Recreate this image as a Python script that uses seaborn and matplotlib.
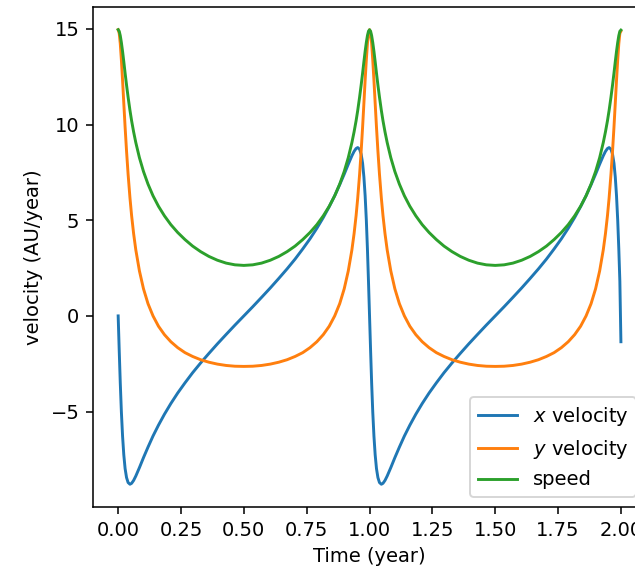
import numpy as np
import pandas as pd
import matplotlib
matplotlib.use("Agg")
import matplotlib.pyplot as plt
import seaborn as sns

# values (two orbits)
time = [0.0000, 0.0042, 0.0084, 0.0128, 0.0175, 0.0224, 0.0276, 0.0333, 0.0395, 0.0470,
        0.0535, 0.0615, 0.0702, 0.0846, 0.1007, 0.1187, 0.1386, 0.1604, 0.1841, 0.2096,
        0.2369, 0.2658, 0.2962, 0.3280, 0.3610, 0.3949, 0.4295, 0.4646, 0.5000,
        0.5354, 0.5705, 0.6051, 0.6390, 0.6720, 0.7038, 0.7342, 0.7631, 0.7904, 0.8159,
        0.8396, 0.8614, 0.8813, 0.8993, 0.9154, 0.9298, 0.9385, 0.9465, 0.9530, 0.9605,
        0.9667, 0.9724, 0.9776, 0.9825, 0.9872, 0.9916, 0.9958, 1.0000,
        1.0042, 1.0084, 1.0128, 1.0175, 1.0224, 1.0276, 1.0333, 1.0395, 1.0470,
        1.0535, 1.0615, 1.0702, 1.0846, 1.1007, 1.1187, 1.1386, 1.1604, 1.1841, 1.2096,
        1.2369, 1.2658, 1.2962, 1.3280, 1.3610, 1.3949, 1.4295, 1.4646, 1.5000,
        1.5354, 1.5705, 1.6051, 1.6390, 1.6720, 1.7038, 1.7342, 1.7631, 1.7904, 1.8159,
        1.8396, 1.8614, 1.8813, 1.8993, 1.9154, 1.9298, 1.9385, 1.9465, 1.9530, 1.9605,
        1.9667, 1.9724, 1.9776, 1.9825, 1.9872, 1.9916, 1.9958, 2.0000]

vx = [0.00, -1.81, -3.51, -5.02, -6.28, -7.26, -7.98, -8.45, -8.71, -8.80,
      -8.75, -8.60, -8.37, -7.93, -7.41, -6.86, -6.28, -5.71, -5.14, -4.58,
      -4.03, -3.50, -2.97, -2.46, -1.96, -1.46, -0.97, -0.48, 0.00,
      0.48, 0.97, 1.46, 1.96, 2.46, 2.97, 3.50, 4.03, 4.58, 5.14,
      5.71, 6.28, 6.86, 7.41, 7.93, 8.37, 8.60, 8.75, 8.80, 8.71,
      8.45, 7.98, 7.26, 6.28, 5.02, 3.51, 1.81, 0.00,
      -1.81, -3.51, -5.02, -6.28, -7.26, -7.98, -8.45, -8.71, -8.80,
      -8.75, -8.60, -8.37, -7.93, -7.41, -6.86, -6.28, -5.71, -5.14, -4.58,
      -4.03, -3.50, -2.97, -2.46, -1.96, -1.46, -0.97, -0.48, 0.00,
      0.48, 0.97, 1.46, 1.96, 2.46, 2.97, 3.50, 4.03, 4.58, 5.14,
      5.71, 6.28, 6.86, 7.41, 7.93, 8.37, 8.60, 8.75, 8.80, 8.71,
      8.45, 7.98, 7.26, 6.28, 5.02, 3.51, 1.81, -1.35]

vy = [14.96, 14.77, 14.23, 13.38, 12.32, 11.12, 9.87, 8.62, 7.41, 6.16,
      5.24, 4.30, 3.45, 2.35, 1.42, 0.64, 0.00, -0.54, -0.98, -1.35,
      -1.66, -1.92, -2.12, -2.29, -2.42, -2.52, -2.59, -2.63, -2.64,
      -2.63, -2.59, -2.52, -2.42, -2.29, -2.12, -1.92, -1.66, -1.35, -0.98,
      -0.54, 0.00, 0.64, 1.42, 2.35, 3.45, 4.30, 5.24, 6.16, 7.41,
      8.62, 9.87, 11.12, 12.32, 13.38, 14.23, 14.77, 14.96,
      14.77, 14.23, 13.38, 12.32, 11.12, 9.87, 8.62, 7.41, 6.16,
      5.24, 4.30, 3.45, 2.35, 1.42, 0.64, 0.00, -0.54, -0.98, -1.35,
      -1.66, -1.92, -2.12, -2.29, -2.42, -2.52, -2.59, -2.63, -2.64,
      -2.63, -2.59, -2.52, -2.42, -2.29, -2.12, -1.92, -1.66, -1.35, -0.98,
      -0.54, 0.00, 0.64, 1.42, 2.35, 3.45, 4.30, 5.24, 6.16, 7.41,
      8.62, 9.87, 11.12, 12.32, 13.38, 14.23, 14.77, 14.88]

speed = [14.96, 14.88, 14.65, 14.29, 13.83, 13.29, 12.69, 12.07, 11.44, 10.74,
         10.20, 9.62, 9.06, 8.27, 7.55, 6.89, 6.28, 5.73, 5.23, 4.77,
         4.36, 3.99, 3.65, 3.36, 3.11, 2.91, 2.76, 2.67, 2.64,
         2.67, 2.76, 2.91, 3.11, 3.36, 3.65, 3.99, 4.36, 4.77, 5.23,
         5.73, 6.28, 6.89, 7.55, 8.27, 9.06, 9.62, 10.20, 10.74, 11.44,
         12.07, 12.69, 13.29, 13.83, 14.29, 14.65, 14.88, 14.96,
         14.88, 14.65, 14.29, 13.83, 13.29, 12.69, 12.07, 11.44, 10.74,
         10.20, 9.62, 9.06, 8.27, 7.55, 6.89, 6.28, 5.73, 5.23, 4.77,
         4.36, 3.99, 3.65, 3.36, 3.11, 2.91, 2.76, 2.67, 2.64,
         2.67, 2.76, 2.91, 3.11, 3.36, 3.65, 3.99, 4.36, 4.77, 5.23,
         5.73, 6.28, 6.89, 7.55, 8.27, 9.06, 9.62, 10.20, 10.74, 11.44,
         12.07, 12.69, 13.29, 13.83, 14.29, 14.65, 14.88, 14.94]

labels = ["$x$ velocity", "$y$ velocity", "speed"]

df = pd.DataFrame({"t": time, "vx": vx, "vy": vy, "speed": speed})

DPI = 140
fig = plt.figure(figsize=(635 / DPI, 569 / DPI), dpi=DPI)
# axes runs past the right edge, as in the reference
ax = fig.add_axes([0.1465, 0.109, 0.8709, 0.8787])

for col, lab, c in zip(["vx", "vy", "speed"], labels, ["C0", "C1", "C2"]):
    sns.lineplot(data=df, x="t", y=col, label=lab, color=c, ax=ax,
                 estimator=None, sort=False)

ax.set_xticks([0, 0.25, 0.5, 0.75, 1.0, 1.25, 1.5, 1.75, 2.0])
ax.set_xticklabels(["0.00", "0.25", "0.50", "0.75", "1.00", "1.25", "1.50", "1.75", "2.00"])
ax.set_xlabel("Time (year)")
ax.set_ylabel("velocity (AU/year)")
ax.legend(loc="lower right")

fig.savefig("out.png", dpi=DPI)
